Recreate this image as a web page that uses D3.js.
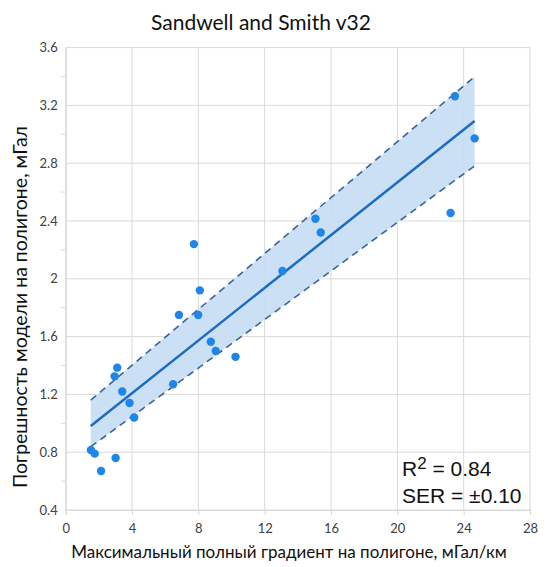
<!DOCTYPE html>
<html>
<head>
<meta charset="utf-8">
<script src="https://cdn.jsdelivr.net/npm/d3@7"></script>
<style>
  html, body { margin: 0; padding: 0; background: #fff; }
  svg { display: block; }
</style>
</head>
<body>
<svg id="chart" width="547" height="567"></svg>
<script>
// Observations: max full gradient on the polygon (mGal/km) vs model error (mGal)
const gradient = [1.52, 1.75, 2.13, 3.01, 2.95, 3.11, 3.41, 3.85, 4.13, 6.48, 6.83, 7.99, 8.09, 8.75, 9.05, 10.24, 7.73, 13.07, 15.06, 15.38, 23.47, 24.66, 23.21];
const modelError = [0.815, 0.79, 0.67, 0.76, 1.325, 1.385, 1.22, 1.14, 1.04, 1.27, 1.75, 1.75, 1.92, 1.565, 1.50, 1.46, 2.24, 2.054, 2.416, 2.32, 3.263, 2.972, 2.455];

// Regression line and its band, at the ends of the fitted range
const fitX = [1.51, 24.66];
const fitY = [0.981, 3.092];
const bandUpper = [1.161, 3.399];
const bandLower = [0.838, 2.781];

// Axis ticks
const xTicks = [0, 4, 8, 12, 16, 20, 24, 28];
const yTicks = [0.4, 0.8, 1.2, 1.6, 2, 2.4, 2.8, 3.2, 3.6];
const yMinorTicks = [0.6, 1.0, 1.4, 1.8, 2.2, 2.6, 3.0, 3.4];

const titleText = "Sandwell and Smith v32";
const xTitle = "Максимальный полный градиент на полигоне, мГал/км";
const yTitle = "Погрешность модели на полигоне, мГал";
const r2Text = "0.84";
const serText = "±0.10";

const svg = d3.select("#chart");
const font = "Lato, 'Open Sans', sans-serif";

const x = d3.scaleLinear().domain([0, 28]).range([65.7, 530]);
const y = d3.scaleLinear().domain([0.4, 3.6]).range([510, 47.6]);

// Gridlines
const grid = svg.append("g").attr("stroke", "#d9d9d9").attr("stroke-width", 1);
grid.selectAll(".gx").data(xTicks).join("line")
  .attr("x1", d => x(d)).attr("x2", d => x(d))
  .attr("y1", y(3.6)).attr("y2", y(0.4));
grid.selectAll(".gy").data(yTicks).join("line")
  .attr("x1", x(0)).attr("x2", x(28))
  .attr("y1", d => y(d)).attr("y2", d => y(d));

// Axes
const xAxis = d3.axisBottom(x).tickValues(xTicks).tickSize(5).tickPadding(9).tickFormat(d3.format("d"));
const gx = svg.append("g").attr("transform", `translate(0,${y(0.4)})`).call(xAxis);
gx.select(".domain").attr("stroke", "#d9d9d9");
gx.selectAll(".tick line").attr("stroke", "#d9d9d9");
gx.selectAll("text").attr("font-family", font).attr("font-size", 13).attr("fill", "#404040");

const yAxis = d3.axisLeft(y).tickValues(yTicks).tickSize(0).tickPadding(8).tickFormat(d3.format("~g"));
const gy = svg.append("g").attr("transform", `translate(${x(0)},0)`).call(yAxis);
gy.select(".domain").attr("stroke", "#d9d9d9");
gy.selectAll("text").attr("font-family", font).attr("font-size", 13).attr("fill", "#404040");
svg.append("g").attr("stroke", "#d9d9d9").selectAll("line").data(yMinorTicks).join("line")
  .attr("x1", x(0) - 5).attr("x2", x(0))
  .attr("y1", d => y(d)).attr("y2", d => y(d));

// Band
const bandData = fitX.map((d, i) => ({ x: d, lo: bandLower[i], hi: bandUpper[i] }));
svg.append("path").datum(bandData)
  .attr("fill", "#c7ddf4").attr("fill-opacity", 0.9)
  .attr("d", d3.area().x(d => x(d.x)).y0(d => y(d.lo)).y1(d => y(d.hi)));

const dashLine = d3.line().x(d => x(d[0])).y(d => y(d[1]));
[bandUpper, bandLower].forEach(b => {
  svg.append("path").datum(fitX.map((d, i) => [d, b[i]]))
    .attr("fill", "none").attr("stroke", "#36659b").attr("stroke-width", 1.6)
    .attr("stroke-dasharray", "7,5")
    .attr("d", dashLine);
});

// Fit line
svg.append("path").datum(fitX.map((d, i) => [d, fitY[i]]))
  .attr("fill", "none").attr("stroke", "#1b6cc2").attr("stroke-width", 2.5)
  .attr("d", dashLine);

// Points
svg.append("g").selectAll("circle").data(gradient.map((d, i) => [d, modelError[i]])).join("circle")
  .attr("cx", d => x(d[0])).attr("cy", d => y(d[1])).attr("r", 4.2)
  .attr("fill", "#1e86ea");

// Titles
svg.append("text").attr("x", 261).attr("y", 30).attr("text-anchor", "middle")
  .attr("font-family", font).attr("font-size", 21).attr("fill", "#111").text(titleText);
svg.append("text").attr("x", 289).attr("y", 558).attr("text-anchor", "middle")
  .attr("font-family", font).attr("font-size", 17).attr("fill", "#111").text(xTitle);
svg.append("text").attr("transform", "translate(27,307) rotate(-90)").attr("text-anchor", "middle")
  .attr("font-family", font).attr("font-size", 19.5).attr("fill", "#111").text(yTitle);

// Statistics
const stat = svg.append("g").attr("font-family", "'Liberation Sans', Arial, sans-serif").attr("font-size", 21).attr("fill", "#111");
const t1 = stat.append("text").attr("x", 402).attr("y", 476);
t1.append("tspan").text("R");
t1.append("tspan").attr("font-size", 17).attr("dy", -7).text("2");
t1.append("tspan").attr("dy", 7).text(" = " + r2Text);
stat.append("text").attr("x", 402).attr("y", 503).text("SER = " + serText);
</script>
</body>
</html>
